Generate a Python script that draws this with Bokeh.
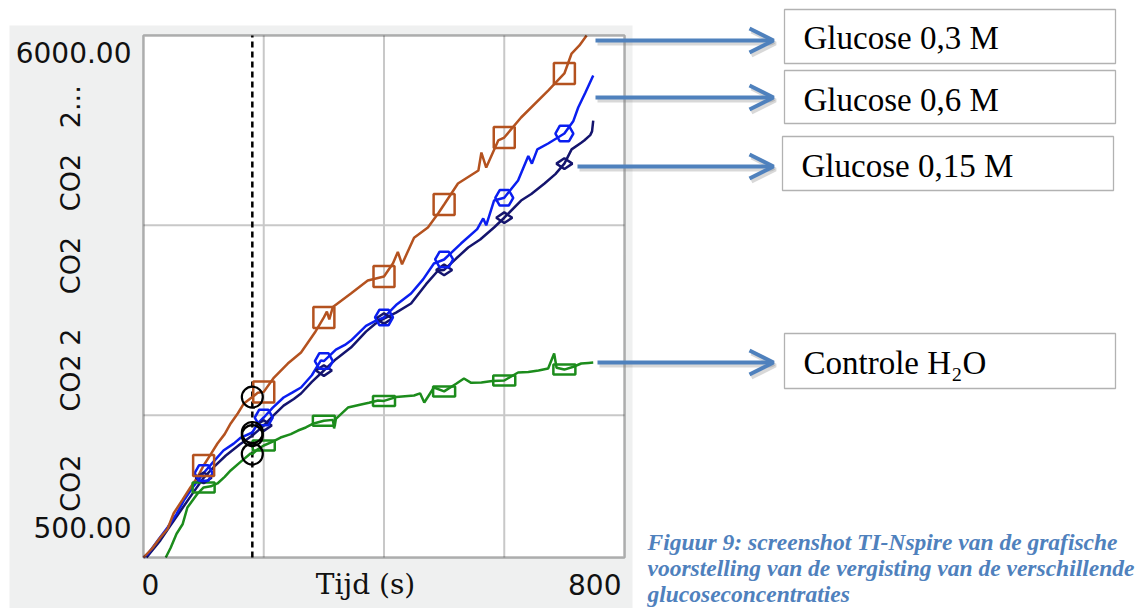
import numpy as np
from bokeh.plotting import figure
from bokeh.models import Range1d, Label, BoxAnnotation, Arrow, OpenHead
from bokeh.embed import file_html
from bokeh.resources import INLINE

# ---------------- data (time in s, CO2 in ppm) ----------------
t_03 = [0, 15, 28, 40, 50, 65, 78, 90, 100, 112, 123, 135, 145, 157, 167, 181, 190, 200, 217, 240,
        262, 285, 300, 305, 309, 315, 345, 373, 400, 415, 423, 430, 450, 473, 490, 500, 523, 557, 562, 570,
        590, 600, 628, 673, 700, 712, 725, 737]
co2_03 = [500, 600, 711, 800, 964, 1110, 1238, 1350, 1469, 1590, 1701, 1800, 1912, 2020, 2123, 2190, 2235, 2245, 2396, 2544,
          2660, 2870, 3030, 3090, 3010, 3140, 3281, 3418, 3460, 3600, 3720, 3590, 3870, 3977, 4124, 4219, 4441, 4577, 4767, 4609,
          4894, 4925, 5136, 5420, 5600, 5810, 5895, 6000]

t_06 = [0, 8, 25, 40, 55, 67, 82, 100, 118, 133, 150, 162, 181, 190, 200, 215, 233, 248, 262, 280,
        295, 300, 320, 335, 345, 370, 385, 400, 420, 445, 465, 483, 500, 528, 555, 565, 570, 583, 600, 623,
        640, 646, 655, 673, 700, 715, 723, 735, 748]
co2_06 = [500, 542, 690, 816, 960, 1100, 1240, 1390, 1520, 1627, 1700, 1764, 1817, 1912, 1975, 2080, 2186, 2240, 2291, 2420,
          2576, 2570, 2690, 2740, 2786, 2940, 2990, 3029, 3160, 3281, 3430, 3598, 3640, 3808, 3960, 4072, 4000, 4261, 4290, 4472,
          4730, 4650, 4800, 4862, 4967, 5100, 5241, 5400, 5578]

t_015 = [5, 28, 45, 62, 80, 100, 118, 137, 160, 181, 200, 215, 233, 250, 262, 280, 300, 320, 345,
         370, 385, 400, 420, 445, 470, 490, 500, 520, 540, 560, 583, 600, 628, 645, 667, 685, 700, 712, 728,
         733, 743, 746, 748]
co2_015 = [500, 680, 840, 995, 1160, 1340, 1460, 1575, 1690, 1785, 1890, 1990, 2100, 2170, 2228, 2350, 2470, 2590, 2712,
           2880, 2960, 3018, 3080, 3176, 3380, 3524, 3530, 3650, 3766, 3850, 3977, 4080, 4261, 4330, 4440, 4540, 4650, 4800, 4870,
           4894, 4950, 4990, 5104]

t_h2o = [37, 45, 55, 65, 73, 90, 100, 112, 123, 135, 145, 160, 178, 181, 190, 200, 215, 228,
         245, 257, 270, 283, 300, 315, 317, 320, 340, 360, 375, 390, 400, 420, 435, 450, 460, 467, 483, 500,
         520, 533, 545, 562, 580, 600, 623, 640, 657, 673, 683, 687, 700, 715, 728, 740, 748]
co2_h2o = [500, 600, 750, 850, 1027, 1174, 1238, 1250, 1280, 1350, 1417, 1500, 1596, 1590, 1640, 1680, 1720, 1764,
           1800, 1838, 1870, 1912, 1940, 1950, 1860, 1960, 2080, 2110, 2130, 2154, 2150, 2190, 2200, 2207, 2230, 2133, 2291, 2250,
           2330, 2386, 2340, 2344, 2360, 2365, 2449, 2455, 2470, 2491, 2650, 2500, 2480, 2510, 2544, 2550, 2554]

marker_times = [100, 200, 300, 400, 500, 600, 700]
cursor_time = 181

x_min, x_max = 0, 800
y_min, y_max = 500, 6000
x_grid_ticks = [200, 400, 600]
y_grid_ticks = [2000, 4000]

x_tick_labels = ["0", "800"]
y_tick_labels = ["500.00", "6000.00"]
x_title = "Tijd (s)"
NB = "\u00a0"
y_title = ("CO2" + NB * 5 + "CO2" + NB + "2" + NB * 4 + "CO2" + NB * 3 + "CO2" + NB * 3 + "2...")

series_names = ["Glucose 0,3 M", "Glucose 0,6 M", "Glucose 0,15 M", "Controle H\u2082O"]
caption_lines = ["Figuur 9: screenshot TI-Nspire van de grafische",
                 "voorstelling van de vergisting van de verschillende",
                 "glucoseconcentraties"]

C_BROWN = "#b4521f"
C_BLUE = "#0a1ef0"
C_NAVY = "#14146e"
C_GREEN = "#1c8c1c"
C_ARROW = "#4f81bd"
C_GRID = "#c8c8c8"
LW = 2.5


def pick(ts, ys, wanted):
    idx = [ts.index(t) for t in wanted]
    return [ts[i] for i in idx], [ys[i] for i in idx]


# ---------------- layout (canvas pixels) ----------------
W, H = 1143, 608
PX_L, PX_R, PX_T, PX_B = 143, 624, 35, 557   # where the data box sits on the canvas
sx = (PX_R - PX_L) / (x_max - x_min)
sy = (PX_B - PX_T) / (y_max - y_min)
xr = Range1d(x_min - PX_L / sx, x_min + (W - PX_L) / sx)
yr = Range1d(y_min - (H - PX_B) / sy, y_max + PX_T / sy)

p = figure(width=W, height=H, x_range=xr, y_range=yr,
           x_axis_location=None, y_axis_location=None, toolbar_location=None,
           output_backend="svg", min_border=0)
p.grid.visible = False
p.outline_line_color = None
p.background_fill_color = "white"
p.border_fill_color = "white"


def cbox(l, r, t, b, **kw):
    return BoxAnnotation(left=l, right=r, top=t, bottom=b, left_units="canvas",
                         right_units="canvas", top_units="canvas", bottom_units="canvas", **kw)


# calculator screen background
p.add_layout(cbox(9, 632, 25, H, fill_color="#eff0f0", fill_alpha=1, line_alpha=0, level="image"))
# plot area
p.add_layout(BoxAnnotation(left=x_min, right=x_max, bottom=y_min, top=y_max,
                           fill_color="white", fill_alpha=1, line_alpha=0, level="underlay"))

# grid lines
p.segment(x0=x_grid_ticks, x1=x_grid_ticks, y0=[y_min] * 3, y1=[y_max] * 3,
          line_color=C_GRID, line_width=2)
p.segment(x0=[x_min] * 2, x1=[x_max] * 2, y0=y_grid_ticks, y1=y_grid_ticks,
          line_color=C_GRID, line_width=2)
# cursor
p.segment(x0=[cursor_time], x1=[cursor_time], y0=[y_min], y1=[y_max],
          line_color="black", line_width=2.5, line_dash="6 4")

# lines
p.line(t_h2o, co2_h2o, line_color=C_GREEN, line_width=LW)
p.line(t_015, co2_015, line_color=C_NAVY, line_width=LW)
p.line(t_06, co2_06, line_color=C_BLUE, line_width=LW)
p.line(t_03, co2_03, line_color=C_BROWN, line_width=LW)

# markers
mx, my = pick(t_h2o, co2_h2o, marker_times)
p.rect(mx, my, width=22, height=10, width_units="screen", height_units="screen",
       fill_color=None, line_color=C_GREEN, line_width=LW)
mx, my = pick(t_015, co2_015, marker_times)
p.scatter(mx, my, marker="diamond", size=16, angle=np.pi / 2, fill_color=None,
          line_color=C_NAVY, line_width=LW)
mx, my = pick(t_06, co2_06, marker_times)
p.scatter(mx, my, marker="hex", size=18, fill_color=None, line_color=C_BLUE, line_width=LW)
mx, my = pick(t_03, co2_03, marker_times)
p.scatter(mx, my, marker="square", size=21, fill_color=None, line_color=C_BROWN, line_width=LW)

# cursor circles
cx, cy = [], []
for ts, ys in [(t_03, co2_03), (t_06, co2_06), (t_015, co2_015), (t_h2o, co2_h2o)]:
    a, b = pick(ts, ys, [cursor_time])
    cx += a
    cy += b
p.scatter(cx, cy, marker="circle", size=21, fill_color=None, line_color="black", line_width=2.2)

# plot border
p.add_layout(BoxAnnotation(left=x_min, right=x_max, bottom=y_min, top=y_max,
                           fill_alpha=0, line_color="black", line_width=2.5, level="overlay"))

# axis texts
TF = "DejaVu Sans"


def canvas_label(x, y, text, **kw):
    p.add_layout(Label(x=x, y=y, x_units="canvas", y_units="canvas", text=text,
                       text_baseline="middle", **kw))


canvas_label(141, 584, x_tick_labels[0], text_font=TF, text_font_size="28px",
             text_align="left", text_color="#111111")
canvas_label(621, 584, x_tick_labels[1], text_font=TF, text_font_size="28px",
             text_align="right", text_color="#111111")
canvas_label(131, 527, y_tick_labels[0], text_font=TF, text_font_size="28px",
             text_align="right", text_color="#111111")
canvas_label(131, 52, y_tick_labels[1], text_font=TF, text_font_size="28px",
             text_align="right", text_color="#111111")
canvas_label(365, 584, x_title, text_font="DejaVu Serif", text_font_size="28px",
             text_align="center", text_color="#111111")
canvas_label(70, 298, y_title, text_font=TF, text_font_size="27px", angle=np.pi / 2,
             text_align="center", text_color="#111111")

# legend boxes + arrows
boxes = [(784, 1115, 9, 63, 37), (784, 1115, 70, 123, 99), (782, 1113, 136, 190, 165),
         (784, 1115, 333, 388, 362)]
arrows = [(595, 40), (595, 97), (577, 166), (597, 362)]
for (l, r, t, b, mid), name, (ax, ay) in zip(boxes, series_names, arrows):
    p.add_layout(cbox(l, r, t, b, fill_color="white", fill_alpha=1, line_color="black",
                      line_width=1.3, level="annotation"))
    canvas_label(l + 19, mid, name, text_font="Liberation Serif", text_font_size="33px",
                 text_align="left", text_color="black")
    p.add_layout(Arrow(x_start=ax + 2, y_start=ay + 3, x_end=773 + 2, y_end=ay + 3,
                       start_units="canvas", end_units="canvas", line_color="#7f7f7f",
                       line_alpha=0.3, line_width=4,
                       end=OpenHead(size=24, line_color="#7f7f7f", line_alpha=0.3, line_width=4),
                       level="overlay"))
    p.add_layout(Arrow(x_start=ax, y_start=ay, x_end=773, y_end=ay,
                       start_units="canvas", end_units="canvas", line_color=C_ARROW,
                       line_width=4, end=OpenHead(size=24, line_color=C_ARROW, line_width=4),
                       level="overlay"))

for i, line in enumerate(caption_lines):
    canvas_label(647, 541 + 26 * i, line, text_font="Liberation Serif", text_font_size="23.5px",
                 text_font_style="bold italic", text_align="left", text_color=C_ARROW)

open("out.html", "w").write(file_html(p, INLINE))
